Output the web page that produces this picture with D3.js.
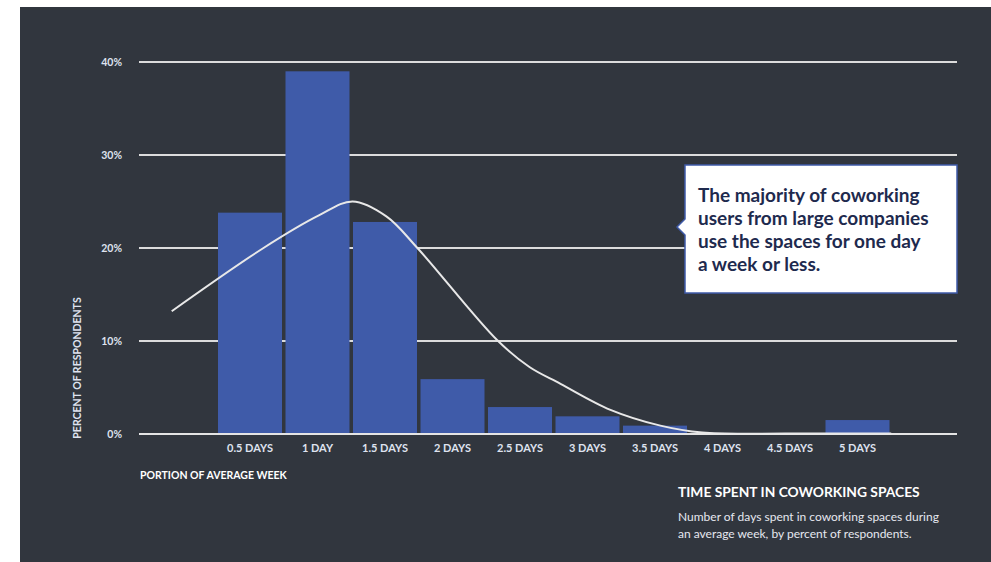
<!DOCTYPE html>
<html>
<head>
<meta charset="utf-8">
<script src="https://cdn.jsdelivr.net/npm/d3@7"></script>
<style>
	body { margin: 0; background: #ffffff; }
	svg text { font-family: Lato, "Open Sans", sans-serif; }
</style>
</head>
<body>
<div id="chart"></div>
<script>
// bars: days per week vs percent of respondents
var days = [0.5, 1, 1.5, 2, 2.5, 3, 3.5, 4, 4.5, 5];
var dayLabels = ["0.5 DAYS", "1 DAY", "1.5 DAYS", "2 DAYS", "2.5 DAYS", "3 DAYS", "3.5 DAYS", "4 DAYS", "4.5 DAYS", "5 DAYS"];
var percents = [23.8, 39.0, 22.8, 5.9, 2.9, 1.9, 0.9, 0, 0, 1.5];

// smooth white curve drawn over the bars
var curveDays = [-0.08, 0.6, 1.01, 1.26, 1.51, 1.74, 2.33, 2.57, 2.8, 3.17, 3.54, 3.85, 4.5, 5.25];
var curveValues = [13.2, 20.0, 23.5, 25.0, 23.4, 20.0, 10.1, 7.2, 5.4, 2.6, 0.9, 0.15, 0.05, 0.05];

var yTicks = [0, 10, 20, 30, 40];

var calloutLines = ["The majority of coworking", "users from large companies", "use the spaces for one day", "a week or less."];

var width = 991, height = 562;

var svg = d3.select("#chart").append("svg")
	.attr("width", width)
	.attr("height", height);

svg.append("rect")
	.attr("x", 20).attr("y", 7)
	.attr("width", 971).attr("height", 555)
	.attr("fill", "#31363e");

var x = d3.scaleLinear().domain([0, 5]).range([182.5, 857.5]);
var y = d3.scaleLinear().domain([0, 40]).range([434, 62]);
var barWidth = 64;

// grid lines + y labels
var grid = svg.append("g");
grid.selectAll("line")
	.data(yTicks)
	.enter()
	.append("line")
	.attr("x1", 139).attr("x2", 957)
	.attr("y1", d => y(d)).attr("y2", d => y(d))
	.attr("stroke", "#dcdcdc")
	.attr("stroke-width", 2);

grid.selectAll("text")
	.data(yTicks)
	.enter()
	.append("text")
	.attr("x", 122)
	.attr("y", d => y(d) + 3.5)
	.attr("text-anchor", "end")
	.attr("font-size", 10.5)
	.attr("font-weight", "bold")
	.attr("fill", "#dfe3ef")
	.text(d => d + "%");

svg.append("text")
	.attr("transform", "translate(81, 368) rotate(-90)")
	.attr("text-anchor", "middle")
	.attr("font-size", 10.5)
	.attr("font-weight", "bold")
	.attr("fill", "#dfe3ef")
	.text("PERCENT OF RESPONDENTS");

// bars
svg.append("g").selectAll("rect")
	.data(days)
	.enter()
	.append("rect")
	.attr("x", d => x(d) - barWidth / 2)
	.attr("width", barWidth)
	.attr("y", (d, i) => y(percents[i]))
	.attr("height", (d, i) => y(0) - y(percents[i]))
	.attr("fill", "#3f5ba9");

// redraw the baseline over the bars
svg.append("line")
	.attr("x1", 139).attr("x2", 957)
	.attr("y1", y(0)).attr("y2", y(0))
	.attr("stroke", "#e4e4e4")
	.attr("stroke-width", 2);

// curve
var line = d3.line()
	.x(d => x(d[0]))
	.y(d => y(d[1]))
	.curve(d3.curveCatmullRom.alpha(0.5));

svg.append("path")
	.datum(curveDays.map((d, i) => [d, curveValues[i]]))
	.attr("d", line)
	.attr("fill", "none")
	.attr("stroke", "#e8e8e8")
	.attr("stroke-width", 2);

// x labels
svg.append("g").selectAll("text")
	.data(days)
	.enter()
	.append("text")
	.attr("x", d => x(d))
	.attr("y", 452)
	.attr("text-anchor", "middle")
	.attr("font-size", 11)
	.attr("font-weight", "bold")
	.attr("fill", "#dfe3ef")
	.text((d, i) => dayLabels[i]);

svg.append("text")
	.attr("x", 140)
	.attr("y", 479)
	.attr("font-size", 10.5)
	.attr("font-weight", "bold")
	.attr("fill", "#ffffff")
	.text("PORTION OF AVERAGE WEEK");

// callout
var callout = svg.append("g");
callout.append("path")
	.attr("d", "M685,165 H957 V293 H685 V235 L677,227 L685,219 Z")
	.attr("fill", "#ffffff")
	.attr("stroke", "#3f5ba9")
	.attr("stroke-width", 1.5);

callout.selectAll("text")
	.data(calloutLines)
	.enter()
	.append("text")
	.attr("x", 698)
	.attr("y", (d, i) => 202 + i * 23)
	.attr("font-size", 19)
	.attr("font-weight", "bold")
	.attr("fill", "#1e2a4e")
	.text(d => d);

// title block
svg.append("text")
	.attr("x", 678)
	.attr("y", 497)
	.attr("font-size", 13.8)
	.attr("font-weight", "bold")
	.attr("fill", "#ffffff")
	.text("TIME SPENT IN COWORKING SPACES");

svg.append("text")
	.attr("x", 678)
	.attr("y", 521)
	.attr("font-size", 12)
	.attr("fill", "#e6e8f0")
	.text("Number of days spent in coworking spaces during");

svg.append("text")
	.attr("x", 678)
	.attr("y", 538)
	.attr("font-size", 12)
	.attr("fill", "#e6e8f0")
	.text("an average week, by percent of respondents.");
</script>
</body>
</html>
